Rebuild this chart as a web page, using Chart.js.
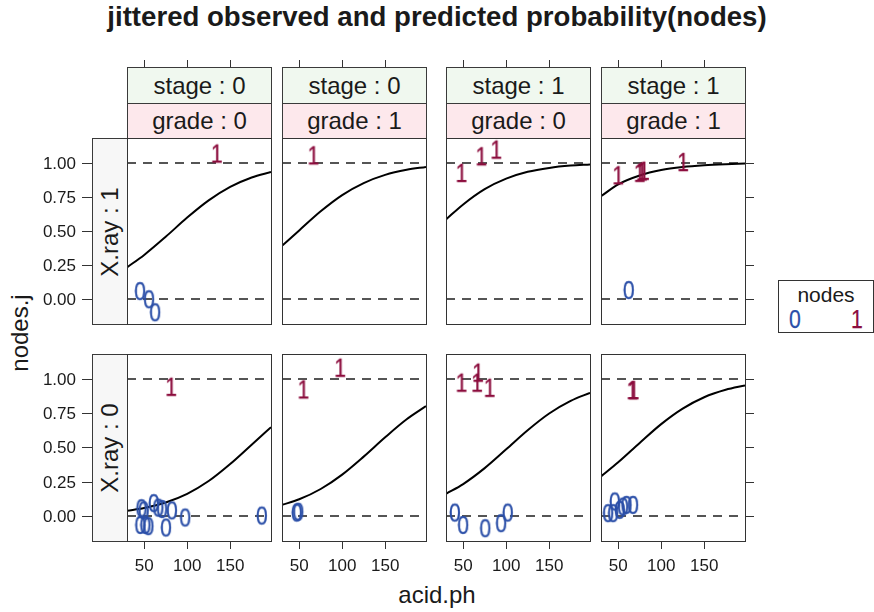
<!DOCTYPE html>
<html lang="en">
<head>
<meta charset="utf-8">
<title>jittered observed and predicted probability(nodes)</title>
<script src="https://cdn.jsdelivr.net/npm/chart.js@4.4.1/dist/chart.umd.min.js"></script>
<style>
  body { margin: 0; background: #fff; }
  #wrap { position: relative; width: 874px; height: 612px; overflow: hidden;
          font-family: "Liberation Sans", Arial, sans-serif; color: #1a1a1a; }
  canvas.panel { position: absolute; left: 0; top: 0; }
  .strip { position: absolute; box-sizing: border-box; border: 1px solid #3a3a3a;
           display: flex; align-items: center; justify-content: center;
           font-size: 24px; line-height: 24px; white-space: nowrap; }
  .stage { background: #f0f8ef; }
  .grade { background: #fde8ec; }
  .xray { background: #f7f7f7; }
  .rot { transform: rotate(-90deg); }
  .txt { position: absolute; white-space: nowrap; line-height: 1; }
</style>
</head>
<body>
<div id="wrap">
  <div class="txt" style="left:0;width:874px;text-align:center;top:3px;font-size:27.6px;font-weight:bold;">jittered observed and predicted probability(nodes)</div>
  <div class="txt" style="left:0;width:874px;text-align:center;top:583px;font-size:24px;">acid.ph</div>
  <div class="txt" style="left:20px;top:333px;font-size:24px;transform:translate(-50%,-50%) rotate(-90deg);">nodes.j</div>
  <div style="position:absolute;left:778px;top:280px;width:96px;height:53px;box-sizing:border-box;border:1px solid #333;"></div>
  <div class="txt" style="left:826px;top:284px;font-size:21px;transform:translateX(-50%);">nodes</div>
  <div class="txt" id="leg0" style="left:795px;top:307px;font-size:25px;transform:translateX(-50%) scaleX(0.85);-webkit-text-stroke:0.25px;">0</div>
  <div class="txt" id="leg1" style="left:857px;top:307px;font-size:25px;transform:translateX(-50%) scaleX(0.85);-webkit-text-stroke:0.25px;">1</div>
</div>
<script>
// conditioning levels
const xrayLevels = ['1', '0'];          // rows, top to bottom
const stageLevels = ['0', '0', '1', '1']; // columns
const gradeLevels = ['0', '1', '0', '1'];

const xTicks = [50, 100, 150];
const yTicks = [0, 0.25, 0.5, 0.75, 1];

// acid.ph values where the fitted curves were read
const fitAcid = [30, 50, 75, 100, 125, 150, 175, 197.5];

// predicted probability, X.ray : 1
const fitX1S0G0 = [0.232, 0.323, 0.456, 0.597, 0.723, 0.822, 0.891, 0.931];
const fitX1S0G1 = [0.39, 0.503, 0.643, 0.762, 0.85, 0.91, 0.947, 0.968];
const fitX1S1G0 = [0.583, 0.693, 0.805, 0.882, 0.932, 0.961, 0.978, 0.986];
const fitX1S1G1 = [0.753, 0.84, 0.905, 0.945, 0.967, 0.98, 0.988, 0.993];
// predicted probability, X.ray : 0
const fitX0S0G0 = [0.037, 0.057, 0.098, 0.161, 0.254, 0.378, 0.519, 0.646];
const fitX0S0G1 = [0.08, 0.121, 0.196, 0.301, 0.432, 0.573, 0.704, 0.8];
const fitX0S1G0 = [0.161, 0.232, 0.348, 0.485, 0.624, 0.746, 0.838, 0.897];
const fitX0S1G1 = [0.288, 0.391, 0.532, 0.669, 0.782, 0.865, 0.919, 0.951];

// jittered observations [acid.ph, nodes.j]
const zerosX1S0G0 = [[45.3, 0.058], [55.8, -0.002], [62.8, -0.097]];
const onesX1S0G0 = [[134.5, 1.066]];
const zerosX1S0G1 = [];
const onesX1S0G1 = [[66.6, 1.053]];
const zerosX1S1G0 = [];
const onesX1S1G0 = [[48.1, 0.924], [71.2, 1.046], [88.5, 1.095]];
const zerosX1S1G1 = [[62.4, 0.066]];
const onesX1S1G1 = [[50, 0.907], [75, 0.925], [77.5, 0.935], [80, 0.94], [125.6, 1.004]];

const zerosX0S0G0 = [[47, 0.056], [49.5, 0.04], [45.7, -0.066], [51.5, -0.066], [55, -0.075],
  [61.3, 0.093], [66.5, 0.06], [71, 0.05], [75.5, -0.085], [82.4, 0.04], [97.8, -0.012], [186.9, 0.002]];
const onesX0S0G0 = [[81.4, 0.941]];
const zerosX0S0G1 = [[47.3, 0.024], [49, 0.03]];
const onesX0S0G1 = [[55, 0.922], [97.7, 1.08]];
const zerosX0S1G0 = [[40.4, 0.024], [50, -0.066], [75.8, -0.09], [94.2, -0.053], [101.9, 0.024]];
const onesX0S1G0 = [[48.1, 0.971], [66.2, 0.971], [67.3, 1.044], [80.8, 0.934]];
const zerosX0S1G1 = [[38.4, 0.02], [44.2, 0.02], [46.2, 0.105], [52, 0.044], [55.8, 0.068], [59.8, 0.08], [67.4, 0.08]];
const onesX0S1G1 = [[66.5, 0.917], [68, 0.917]];

const col0 = '#2b4fa8';
const col1 = '#8c0e3e';

// page layout of the panel boxes
const colLeft = [127, 282, 446, 601];
const panelW = 144;
const rowTop = [138, 354];
const rowBottom = [324, 541];

const panels = [
  { row: 0, col: 0, fit: fitX1S0G0, zeros: zerosX1S0G0, ones: onesX1S0G0 },
  { row: 0, col: 1, fit: fitX1S0G1, zeros: zerosX1S0G1, ones: onesX1S0G1 },
  { row: 0, col: 2, fit: fitX1S1G0, zeros: zerosX1S1G0, ones: onesX1S1G0 },
  { row: 0, col: 3, fit: fitX1S1G1, zeros: zerosX1S1G1, ones: onesX1S1G1 },
  { row: 1, col: 0, fit: fitX0S0G0, zeros: zerosX0S0G0, ones: onesX0S0G0 },
  { row: 1, col: 1, fit: fitX0S0G1, zeros: zerosX0S0G1, ones: onesX0S0G1 },
  { row: 1, col: 2, fit: fitX0S1G0, zeros: zerosX0S1G0, ones: onesX0S1G0 },
  { row: 1, col: 3, fit: fitX0S1G1, zeros: zerosX0S1G1, ones: onesX0S1G1 }
];

document.getElementById('leg0').style.color = col0;
document.getElementById('leg1').style.color = col1;

// text glyph used as point symbol
function glyph(ch, color) {
  const c = document.createElement('canvas');
  c.width = 18; c.height = 26;
  const g = c.getContext('2d');
  g.fillStyle = color;
  g.strokeStyle = color;
  g.lineWidth = 0.3;
  g.font = '25px "Liberation Sans", Arial, sans-serif';
  g.textAlign = 'center';
  g.textBaseline = 'alphabetic';
  g.translate(9, 0);
  g.scale(0.85, 1);
  const base = 13 + 0.716 * 25 / 2;
  g.fillText(ch, 0, base);
  g.strokeText(ch, 0, base);
  return c;
}
const glyph0 = glyph('0', col0);
const glyph1 = glyph('1', col1);

const wrap = document.getElementById('wrap');

// strips
function addStrip(cls, left, top, w, h, text, rotate) {
  const d = document.createElement('div');
  d.className = 'strip ' + cls;
  d.style.left = left + 'px'; d.style.top = top + 'px';
  d.style.width = w + 'px'; d.style.height = h + 'px';
  const s = document.createElement('span');
  s.textContent = text;
  if (rotate) s.className = 'rot';
  d.appendChild(s);
  wrap.appendChild(d);
}
colLeft.forEach((l, c) => {
  addStrip('stage', l, 67, panelW + 1, 37, 'stage : ' + stageLevels[c]);
  addStrip('grade', l, 103, panelW + 1, 36, 'grade : ' + gradeLevels[c]);
});
rowTop.forEach((t, r) => {
  addStrip('xray', 92, t, 36, rowBottom[r] - t + 1, 'X.ray : ' + xrayLevels[r], true);
});

const latticePanel = {
  id: 'latticePanel',
  beforeDatasetsDraw(chart) {
    const { ctx, chartArea: a, scales: { y } } = chart;
    ctx.save();
    ctx.strokeStyle = '#555';
    ctx.lineWidth = 2;
    ctx.setLineDash([9, 7]);
    [0, 1].forEach(v => {
      const py = Math.round(y.getPixelForValue(v));
      ctx.beginPath();
      ctx.moveTo(a.left, py);
      ctx.lineTo(a.right, py);
      ctx.stroke();
    });
    ctx.restore();
  },
  afterDraw(chart, args, o) {
    const { ctx, chartArea: a, scales: { x, y } } = chart;
    ctx.save();
    ctx.strokeStyle = '#333';
    ctx.lineWidth = 1;
    ctx.strokeRect(a.left + 0.5, a.top + 0.5, a.right - a.left, a.bottom - a.top);
    ctx.beginPath();
    xTicks.forEach(v => {
      const px = Math.round(x.getPixelForValue(v)) + 0.5;
      if (o.row === 0) { ctx.moveTo(px, 60); ctx.lineTo(px, 67); }
      else { ctx.moveTo(px, a.bottom + 1); ctx.lineTo(px, a.bottom + 8); }
    });
    yTicks.forEach(v => {
      const py = Math.round(y.getPixelForValue(v)) + 0.5;
      if (o.col === 0) { ctx.moveTo(82, py); ctx.lineTo(92, py); }
      if (o.col === 3) { ctx.moveTo(a.right + 1, py); ctx.lineTo(a.right + 9, py); }
    });
    ctx.stroke();
    ctx.fillStyle = '#1a1a1a';
    ctx.font = '17px "Liberation Sans", Arial, sans-serif';
    ctx.textBaseline = 'alphabetic';
    if (o.row === 1) {
      ctx.textAlign = 'center';
      xTicks.forEach(v => ctx.fillText(String(v), x.getPixelForValue(v), 571));
    }
    if (o.col === 0) {
      ctx.textAlign = 'right';
      yTicks.forEach(v => ctx.fillText(v.toFixed(2), 76, y.getPixelForValue(v) + 6));
    }
    ctx.restore();
  }
};

panels.forEach(p => {
  const cv = document.createElement('canvas');
  cv.className = 'panel';
  cv.width = 874; cv.height = 612;
  wrap.appendChild(cv);
  const left = colLeft[p.col];
  new Chart(cv, {
    type: 'scatter',
    data: {
      datasets: [
        {
          data: p.zeros.map(([a, v]) => ({ x: a, y: v })),
          pointStyle: glyph0, pointRadius: 6, order: 0
        },
        {
          data: p.ones.map(([a, v]) => ({ x: a, y: v })),
          pointStyle: glyph1, pointRadius: 6, order: 0
        },
        {
          type: 'line',
          data: fitAcid.map((a, i) => ({ x: a, y: p.fit[i] })),
          borderColor: '#000', borderWidth: 2, pointRadius: 0,
          cubicInterpolationMode: 'monotone', fill: false, order: 1
        }
      ]
    },
    options: {
      responsive: false,
      animation: false,
      devicePixelRatio: 1,
      events: [],
      layout: {
        padding: {
          left: left, top: rowTop[p.row],
          right: 874 - (left + panelW), bottom: 612 - rowBottom[p.row]
        }
      },
      plugins: {
        legend: { display: false },
        tooltip: { enabled: false },
        latticePanel: { row: p.row, col: p.col }
      },
      scales: {
        x: { type: 'linear', display: false, min: 30, max: 197.5 },
        y: { type: 'linear', display: false, min: -0.183, max: 1.18 }
      }
    },
    plugins: [latticePanel]
  });
});
</script>
</body>
</html>
